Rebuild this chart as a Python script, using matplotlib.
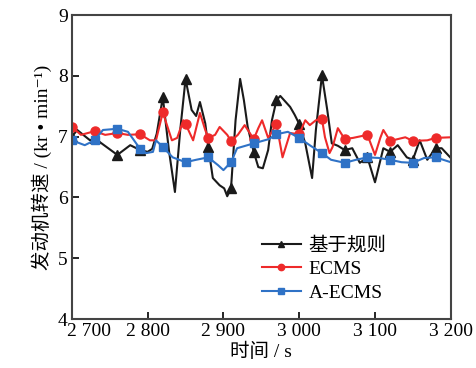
# -*- coding: utf-8 -*-
import numpy as np
import matplotlib
matplotlib.use("Agg")
import matplotlib.pyplot as plt
import matplotlib.transforms as mtransforms

plt.rcParams['font.family'] = ['Liberation Serif', 'Noto Sans CJK SC', 'DejaVu Serif']

# 基于规则
t_rule = [2700, 2707, 2724, 2730, 2737, 2760, 2777, 2790, 2800, 2806, 2812, 2820, 2828, 2836,
          2843, 2850, 2858, 2864, 2869, 2876, 2880, 2886, 2895, 2901, 2905, 2910, 2916, 2922,
          2927, 2932, 2940, 2946, 2952, 2959, 2964, 2970, 2975, 2988, 2994, 3000, 3008, 3017,
          3022, 3030, 3037, 3043, 3051, 3060, 3070, 3080, 3090, 3100, 3111, 3120, 3130, 3142,
          3150, 3159, 3169, 3180, 3188, 3200]
v_rule = [7.00, 7.11, 6.94, 6.98, 6.91, 6.70, 6.86, 6.78, 6.75, 6.80, 7.05, 7.65, 6.78, 6.09,
          7.11, 7.95, 7.44, 7.34, 7.57, 7.22, 6.83, 6.32, 6.20, 6.15, 6.02, 6.15, 7.27, 7.95,
          7.60, 7.16, 6.75, 6.50, 6.48, 6.78, 7.27, 7.60, 7.67, 7.49, 7.36, 7.21, 6.89, 6.32,
          7.11, 8.01, 7.44, 6.89, 6.85, 6.78, 6.81, 6.57, 6.66, 6.25, 6.81, 6.75, 6.86, 6.66,
          6.62, 6.94, 6.62, 6.81, 6.81, 6.65]

# ECMS
t_ecms = [2700, 2712, 2730, 2744, 2760, 2774, 2790, 2803, 2811, 2820, 2832, 2839, 2847, 2850,
          2860, 2869, 2876, 2880, 2889, 2895, 2905, 2910, 2919, 2928, 2940, 2946, 2951, 2959,
          2970, 2978, 2988, 3000, 3008, 3014, 3022, 3030, 3034, 3040, 3044, 3051, 3060, 3071,
          3090, 3100, 3107, 3111, 3120, 3140, 3150, 3169, 3180, 3200]
v_ecms = [7.16, 7.03, 7.09, 7.03, 7.06, 7.03, 7.04, 6.94, 6.94, 7.40, 6.94, 6.98, 7.27, 7.21,
          6.94, 7.39, 7.11, 6.98, 7.03, 7.16, 7.03, 6.93, 7.03, 7.19, 6.96, 7.14, 7.27, 6.98,
          7.21, 6.66, 7.06, 7.04, 7.27, 7.19, 7.27, 7.29, 6.99, 6.73, 6.83, 7.14, 6.96, 6.98,
          7.03, 6.70, 6.98, 7.11, 6.93, 6.99, 6.93, 6.94, 6.98, 6.99]

# A-ECMS
t_aecms = [2700, 2717, 2730, 2741, 2760, 2774, 2790, 2798, 2807, 2811, 2820, 2833, 2850, 2864,
           2880, 2893, 2900, 2910, 2918, 2940, 2960, 2970, 2985, 3000, 3015, 3030, 3042, 3060,
           3075, 3090, 3105, 3120, 3135, 3150, 3165, 3180, 3200]
v_aecms = [6.94, 6.86, 6.94, 7.11, 7.13, 7.08, 6.80, 6.73, 6.75, 6.94, 6.83, 6.66, 6.58, 6.62,
           6.66, 6.53, 6.45, 6.58, 6.81, 6.89, 6.96, 7.04, 7.08, 6.98, 6.85, 6.73, 6.62, 6.57,
           6.62, 6.66, 6.65, 6.62, 6.58, 6.57, 6.65, 6.66, 6.58]

xticks = [2700, 2800, 2900, 3000, 3100, 3200]
xticklabels = ['2 700', '2 800', '2 900', '3 000', '3 100', '3 200']
yticks = [4, 5, 6, 7, 8, 9]


def marks(t):
    # 每30 s一个标记
    return [i for i, v in enumerate(t) if v % 30 == 0]


fig = plt.figure(figsize=(4.76, 3.68), dpi=100)
ax = fig.add_axes([0.151, 0.133, 0.796, 0.826])

ax.plot(t_rule, v_rule, color='#1a1a1a', lw=1.5, marker='^', ms=6.5,
        markevery=marks(t_rule), label='基于规则')
ax.plot(t_ecms, v_ecms, color='#ee2a2a', lw=1.5, marker='o', ms=6.5,
        markevery=marks(t_ecms), label='ECMS')
ax.plot(t_aecms, v_aecms, color='#2f72c6', lw=1.5, marker='s', ms=5.5,
        markevery=marks(t_aecms), label='A-ECMS')

ax.set_xlim(2700, 3200)
ax.set_ylim(4, 9)
ax.set_xticks(xticks)
ax.set_xticklabels(xticklabels, fontsize=14)
ax.set_yticks(yticks)
ax.set_yticklabels([str(v) for v in yticks], fontsize=14)
ax.tick_params(direction='in', length=5, width=1.2, top=False, right=False, pad=3)
first = ax.get_xticklabels()[0]
first.set_ha('left')
first.set_transform(first.get_transform() +
                    mtransforms.ScaledTranslation(-5 / 100, 0, fig.dpi_scale_trans))

for s in ax.spines.values():
    s.set_linewidth(1.5)
    s.set_color('#444444')

ax.set_xlabel('时间 / s', fontsize=14, labelpad=2)
ax.set_ylabel('发动机转速 / (kr • min⁻¹)', fontsize=14, labelpad=4)

leg = ax.legend(loc='lower left', bbox_to_anchor=(0.455, 0.0), frameon=False,
                fontsize=14, handlelength=2.0, handletextpad=0.4, labelspacing=0.3,
                markerscale=0.7)

fig.savefig('out.png', dpi=100)
